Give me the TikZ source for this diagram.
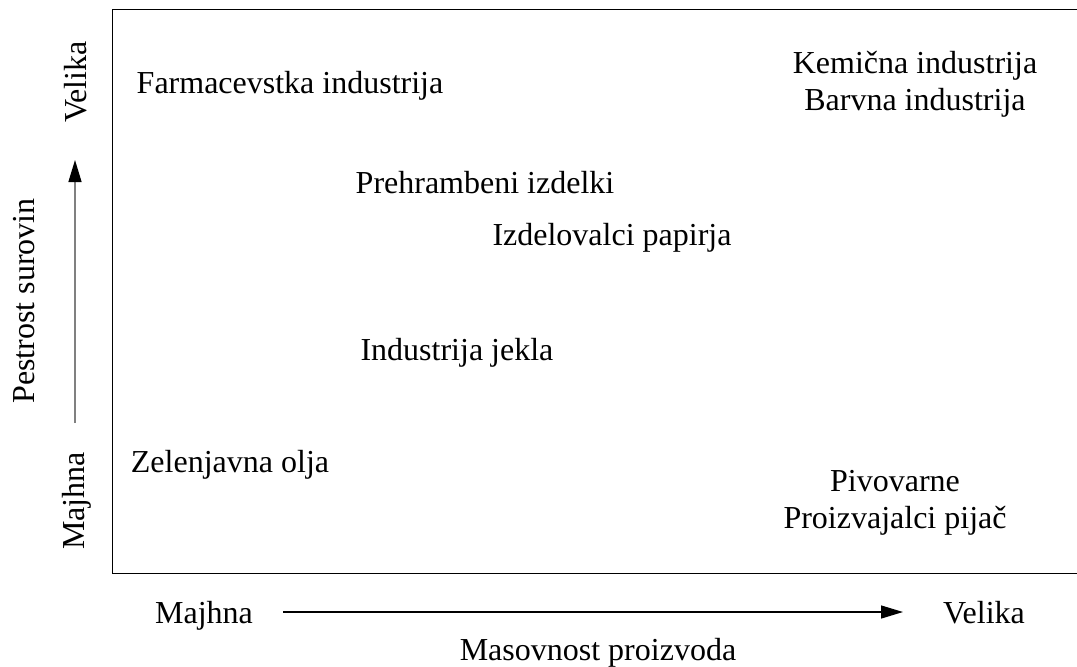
\documentclass[tikz,border=0pt]{standalone}
\usepackage{fontspec}
\setmainfont{Liberation Serif}
\usetikzlibrary{arrows.meta}

\tikzset{
  Label/.style={font=\fontsize{16}{18.5}\selectfont, inner sep=0pt, anchor=base},
  AxisLabel/.style={Label, rotate=90},
  AxisArrow/.style={line width=0.65pt, -{Triangle[length=11pt,width=6.5pt,black]}}
}

\begin{document}
\begin{tikzpicture}[x=0.5pt, y=-0.5pt]
    \useasboundingbox (0,0) rectangle (1077,666);

    % frame (open on the right)
    \draw[line width=0.5pt] (1080,9.5) -| (112.5,573) -- (1080,573);

    % industries
    \node[Label] (farm)  at (290,93)  {Farmacevstka industrija};
    \node[Label, align=center] (kem) at (915,110) {Kemična industrija\\Barvna industrija};
    \node[Label] (preh)  at (485,193) {Prehrambeni izdelki};
    \node[Label] (papir) at (612,245) {Izdelovalci papirja};
    \node[Label] (jekla) at (457,360) {Industrija jekla};
    \node[Label] (olja)  at (230,472) {Zelenjavna olja};
    \node[Label, align=center] (piv) at (895,528) {Pivovarne\\Proizvajalci pijač};

    % horizontal axis
    \node[Label] (xlow)  at (204,623) {Majhna};
    \node[Label] (xhigh) at (984,623) {Velika};
    \node[Label] (xname) at (598,660) {Masovnost proizvoda};
    \coordinate (xstart) at (283,612);
    \coordinate (xend)   at (903,612);
    \draw[AxisArrow] (xstart) -- (xend);

    % vertical axis
    \node[AxisLabel] (ylow)  at (84,501) {Majhna};
    \node[AxisLabel] (yhigh) at (86,82)  {Velika};
    \node[AxisLabel] (yname) at (34,301) {Pestrost surovin};
    \coordinate (ystart) at (75,423);
    \coordinate (yend)   at (75,160);
    \draw[AxisArrow, gray] (ystart) -- (yend);
\end{tikzpicture}
\end{document}
